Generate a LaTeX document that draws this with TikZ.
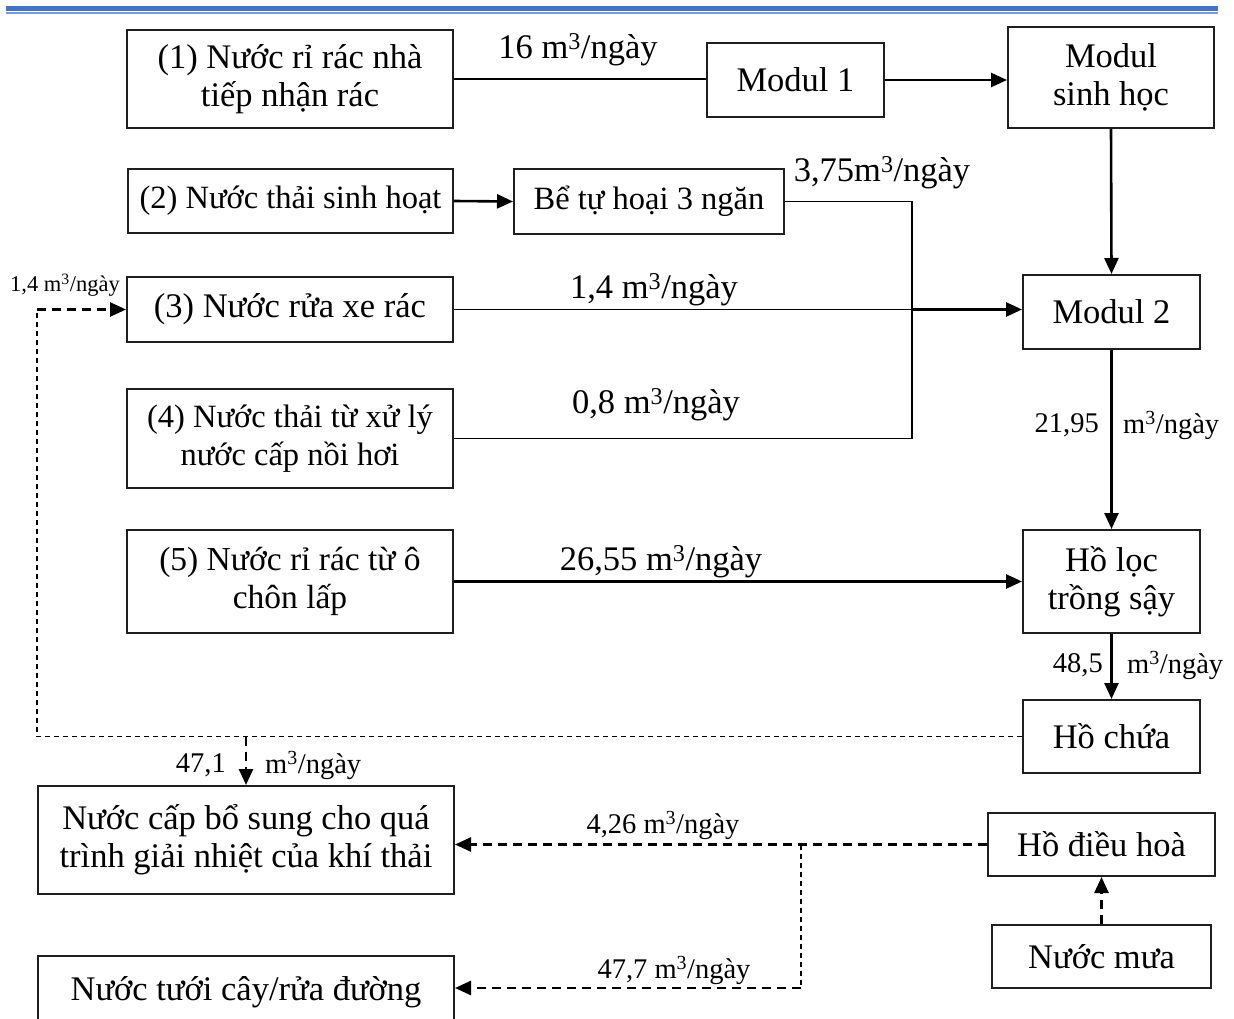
\documentclass[tikz,border=0pt]{standalone}
\usepackage{fontspec}
\setmainfont{Liberation Serif}
\usetikzlibrary{arrows.meta}
\definecolor{headblue}{RGB}{68,114,196}
\definecolor{headlight}{RGB}{120,155,220}
\newcommand{\mcube}{m\textsuperscript{3}/ngày}
\begin{document}
\begin{tikzpicture}[x=1pt,y=-1pt,
  box/.style={draw=black!88, line width=2pt, inner sep=0pt, align=center,
              font=\fontsize{34.5}{38}\selectfont},
  narrow/.style={font=\fontsize{32.5}{38}\selectfont},
  flow/.style={line width=2.6pt},
  feed/.style={line width=1.3pt},
  tip/.style={-{Triangle[length=16pt,width=14pt]}},
  dflow/.style={line width=2.6pt, dash pattern=on 9pt off 6pt},
  dfeed/.style={line width=1.3pt, dash pattern=on 5pt off 4pt},
  big/.style={font=\fontsize{34.5}{38}\selectfont, inner sep=0pt},
  mid/.style={font=\fontsize{28.5}{32}\selectfont, inner sep=0pt},
  small/.style={font=\fontsize{22.5}{26}\selectfont, inner sep=0pt},
]
\useasboundingbox (0,0) rectangle (1234,1019);
\clip (0,0) rectangle (1234,1019);
\fill[white] (0,0) rectangle (1234,1019);

% page header rule
\fill[headblue] (6,6) rectangle (1218,11);
\draw[headlight, line width=1.6pt] (6,13.2) -- (1218,13.2);

% process boxes
\node[box, minimum width=326pt, minimum height=98pt]  (b1)  at (290,79)     {(1) Nước rỉ rác nhà\\tiếp nhận rác};
\node[box, minimum width=177pt, minimum height=74pt]  (m1)  at (795.5,80)   {Modul 1};
\node[box, minimum width=206pt, minimum height=101pt] (msh) at (1111,77.5)  {Modul\\sinh học};
\node[box, narrow, minimum width=325pt, minimum height=64pt]  (b2)  at (290.5,201)  {(2) Nước thải sinh hoạt};
\node[box, narrow, minimum width=270pt, minimum height=65pt]  (be)  at (649,201.5)  {Bể tự hoại 3 ngăn};
\node[box, minimum width=326pt, minimum height=65pt]  (b3)  at (290,309.5)  {(3) Nước rửa xe rác};
\node[box, minimum width=177pt, minimum height=74pt]  (m2)  at (1111.5,312) {Modul 2};
\node[box, narrow, minimum width=326pt, minimum height=99pt]  (b4)  at (290,438.5)  {(4) Nước thải từ xử lý\\nước cấp nồi hơi};
\node[box, font=\fontsize{33.5}{38}\selectfont, minimum width=326pt, minimum height=103pt] (b5)  at (290,581.5)  {(5) Nước rỉ rác từ ô\\chôn lấp};
\node[box, minimum width=177pt, minimum height=103pt] (hl)  at (1111.5,581.5) {Hồ lọc\\trồng sậy};
\node[box, minimum width=177pt, minimum height=73pt]  (hc)  at (1111.5,736.5) {Hồ chứa};
\node[box, minimum width=416pt, minimum height=108pt] (nc)  at (246,840)    {Nước cấp bổ sung cho quá\\trình giải nhiệt của khí thải};
\node[box, minimum width=227pt, minimum height=63pt]  (hdh) at (1101.5,844.5) {Hồ điều hoà};
\node[box, minimum width=219pt, minimum height=63pt]  (nm)  at (1101.5,956.5) {Nước mưa};
\node[box, minimum width=416pt, minimum height=150pt, anchor=north] (nt) at (246,955) {};
\node[big] (ntx) at (246,992) {Nước tưới cây/rửa đường};

% main treatment line
\draw[flow] (b1.east) -- (b1.east -| m1.west);
\draw[flow, tip] (m1.east) -- (m1.east -| msh.west);
\draw[flow, tip] (msh.south) -- (m2.north);
\draw[flow, tip] (b2.east) -- (be.west);

% collector for streams (2), (3), (4)
\coordinate (jx) at (912,0);
\draw[feed] (be.east) -- (be.east -| jx) -- (jx |- b4.east) -- (b4.east);
\draw[feed] (b3.east) -- (b3.east -| jx);
\draw[flow, tip] (b3.east -| jx) -- (b3.east -| m2.west);

\draw[flow, tip] (m2.south) -- (hl.north);
\draw[flow, tip] (b5.east) -- (b5.east -| hl.west);
\draw[flow, tip] (hl.south) -- (hc.north);

% reuse from the storage pond
\coordinate (lc) at (nc.west |- hc.west);
\draw[dfeed] (hc.west) -- (lc) -- (lc |- b3.west);
\draw[dflow, tip] (lc |- b3.west) -- (b3.west);
\draw[dflow, tip] (nc.north |- hc.west) -- (nc.north);

% regulation pond outlets
\coordinate (br) at (801,844.5);
\coordinate (bt) at (801,988);
\draw[dflow, tip] (hdh.west) -- (nc.east |- hdh.west);
\draw[dfeed] (br) -- (bt);
\draw[dflow, tip] (bt) -- (bt -| nt.east);
\draw[dflow, tip] (nm.north) -- (hdh.south);

% flow rates
\node[big] (q1)  at (578,50)   {16 \mcube};
\node[big] (q2)  at (882,173)  {3,75\mcube};
\node[big] (q3)  at (654,290)  {1,4 \mcube};
\node[big] (q4)  at (656,405)  {0,8 \mcube};
\node[big] (q5)  at (661,562)  {26,55 \mcube};
\node[mid, anchor=east] (q6a) at (1099,425) {21,95};
\node[mid, anchor=west] (q6b) at (1123,425) {\mcube};
\node[mid, anchor=east] (q7a) at (1103,665) {48,5};
\node[mid, anchor=west] (q7b) at (1127,665) {\mcube};
\node[mid, anchor=east] (q8a) at (226,765)  {47,1};
\node[mid, anchor=west] (q8b) at (265,765)  {\mcube};
\node[mid] (q9)  at (663,825)  {4,26 \mcube};
\node[mid] (q10) at (674,970)  {47,7 \mcube};
\node[small] (q11) at (65,285) {1,4 \mcube};
\end{tikzpicture}
\end{document}
